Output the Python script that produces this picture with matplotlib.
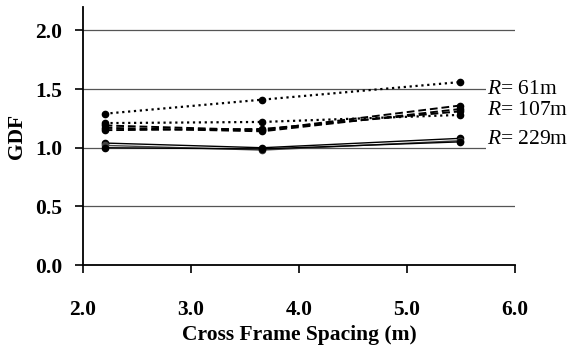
import matplotlib
matplotlib.use("Agg")
import matplotlib.pyplot as plt

plt.rcParams['font.family'] = ['Liberation Serif', 'DejaVu Serif']
plt.rcParams['mathtext.fontset'] = 'custom'
plt.rcParams['mathtext.it'] = 'Liberation Serif:italic'
plt.rcParams['mathtext.rm'] = 'Liberation Serif'

spacing = [2.2, 3.66, 5.49]

# R = 61 m (dotted)
r61_a = [1.29, 1.41, 1.56]
r61_b = [1.21, 1.22, 1.28]
# R = 107 m (dashed)
r107_a = [1.19, 1.15, 1.36]
r107_b = [1.17, 1.14, 1.33]
r107_c = [1.15, 1.16, 1.31]
# R = 229 m (solid)
r229_a = [1.04, 1.00, 1.08]
r229_b = [1.02, 0.98, 1.06]
r229_c = [1.00, 0.99, 1.05]

xticks = [2.0, 3.0, 4.0, 5.0, 6.0]
yticks = [0.0, 0.5, 1.0, 1.5, 2.0]
labels = ["$R$= 61m", "$R$= 107m", "$R$= 229m"]
label_y = [1.50, 1.32, 1.07]

fig = plt.figure(figsize=(5.75, 3.51), dpi=100)
ax = fig.add_axes([0.1443, 0.245, 0.7514, 0.735])

for yv in yticks[1:]:
    ax.axhline(yv, color='#555555', lw=0.9, zorder=1)

for s in [r61_a, r61_b]:
    ax.plot(spacing, s, linestyle=':', color='black', lw=1.6, marker='o', ms=4.5, zorder=3)
for s in [r107_a, r107_b, r107_c]:
    ax.plot(spacing, s, linestyle=(0, (4, 2)), color='black', lw=1.4, marker='o', ms=4.5, zorder=3)
for s, c in zip([r229_a, r229_b, r229_c], ['black', '#444444', 'black']):
    ax.plot(spacing, s, linestyle='-', color=c, lw=1.0, marker='o', ms=4.5, zorder=3)

for t, yv in zip(labels, label_y):
    ax.text(5.74, yv, t, fontsize=15.5, va='center', ha='left', clip_on=False,
            bbox=dict(facecolor='white', edgecolor='none', pad=0.5), zorder=4)

ax.set_xlim(2.0, 6.0)
ax.set_ylim(0.0, 2.2)
ax.set_xticks(xticks)
ax.set_yticks(yticks)
ax.set_xticklabels([f"{v:.1f}" for v in xticks], fontsize=15.5, fontweight='bold')
ax.set_yticklabels([f"{v:.1f}" for v in yticks], fontsize=15.5, fontweight='bold')
ax.tick_params(direction='out', length=6, width=1.2)
ax.tick_params(axis='x', pad=19)
ax.tick_params(axis='y', pad=9)
ax.spines['top'].set_visible(False)
ax.spines['right'].set_visible(False)
ax.spines['left'].set_linewidth(1.3)
ax.spines['bottom'].set_linewidth(1.3)
ax.set_xlabel("Cross Frame Spacing (m)", fontsize=15.5, fontweight='bold', labelpad=4)
ax.set_ylabel("GDF", fontsize=15.5, fontweight='bold', labelpad=6)

fig.savefig("out.png", dpi=100)
